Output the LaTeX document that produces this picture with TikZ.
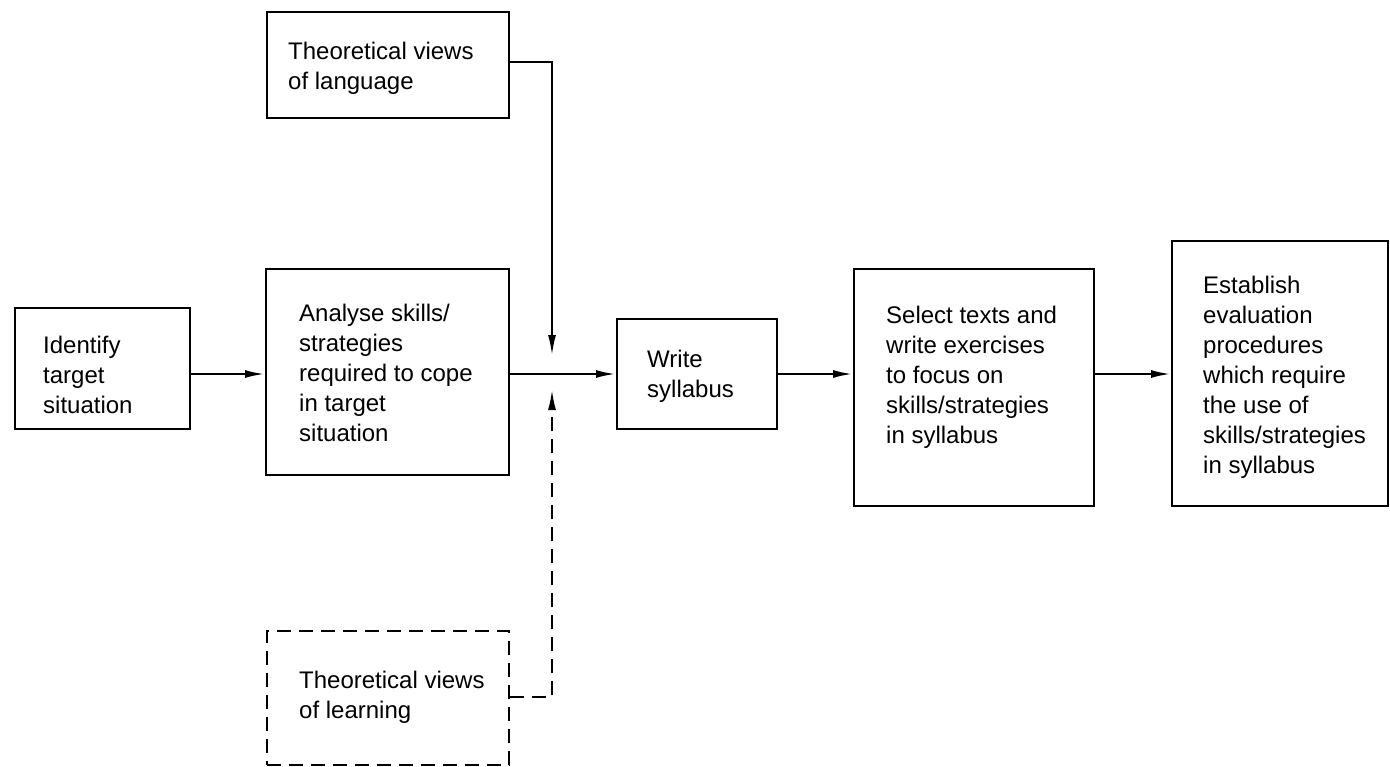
\documentclass[tikz,border=0pt]{standalone}
\usepackage{fontspec}
\setmainfont{Liberation Sans}
\usetikzlibrary{arrows.meta}

\tikzset{
  stagebox/.style={draw, line width=1.8pt, rectangle, inner sep=0pt, anchor=north west},
  dashbox/.style={stagebox, dash pattern=on 14pt off 8pt},
  label text/.style={anchor=north west, inner sep=0pt, align=left,
    font=\fontsize{24}{30}\selectfont},
  flow/.style={line width=2.4pt, -{Latex[length=20pt,width=8pt]}},
  feed/.style={line width=1.8pt, -{Latex[length=20pt,width=8pt]}},
}

\begin{document}
\begin{tikzpicture}[x=1pt, y=-1pt]
\useasboundingbox (0,0) rectangle (1390,766);

% stage boxes
\node[stagebox, minimum width=175pt, minimum height=121pt] (ident) at (14,307) {};
\node[stagebox, minimum width=243pt, minimum height=206pt] (analyse) at (265,268) {};
\node[stagebox, minimum width=242pt, minimum height=106pt] (lang) at (266,11) {};
\node[dashbox, minimum width=242pt, minimum height=134pt] (learn) at (266,630) {};
\node[stagebox, minimum width=160pt, minimum height=110pt] (write) at (616,318) {};
\node[stagebox, minimum width=240pt, minimum height=237pt] (select) at (853,268) {};
\node[stagebox, minimum width=216pt, minimum height=265pt] (establish) at (1171,240) {};

% texts inside the boxes
\node[label text] (identT) at (43,336) {Identify\\target\\situation};
\node[label text] (analyseT) at (299,304) {Analyse skills/\\strategies\\required to cope\\in target\\situation};
\node[label text] (langT) at (288,42) {Theoretical views\\of language};
\node[label text] (learnT) at (299,671) {Theoretical views\\of learning};
\node[label text] (writeT) at (647,350) {Write\\syllabus};
\node[label text] (selectT) at (886,306) {Select texts and\\write exercises\\to focus on\\skills/strategies\\in syllabus};
\node[label text] (establishT) at (1203,276) {Establish\\evaluation\\procedures\\which require\\the use of\\skills/strategies\\in syllabus};

% junction points of the two theory inputs
\coordinate (langIn) at (552,355);
\coordinate (learnIn) at (552,390);

% main sequence
\draw[flow] (ident.east |- 0,374) -- (analyse.west |- 0,374);
\draw[flow] (analyse.east |- 0,374) -- (write.west |- 0,374);
\draw[flow] (write.east |- 0,374) -- (select.west |- 0,374);
\draw[flow] (select.east |- 0,374) -- (establish.west |- 0,374);

% theory inputs
\draw[feed] (lang.east |- 0,62) -| (langIn);
\draw[feed, dash pattern=on 14pt off 8pt] (learn.east |- 0,697) -| (learnIn);
\end{tikzpicture}
\end{document}
